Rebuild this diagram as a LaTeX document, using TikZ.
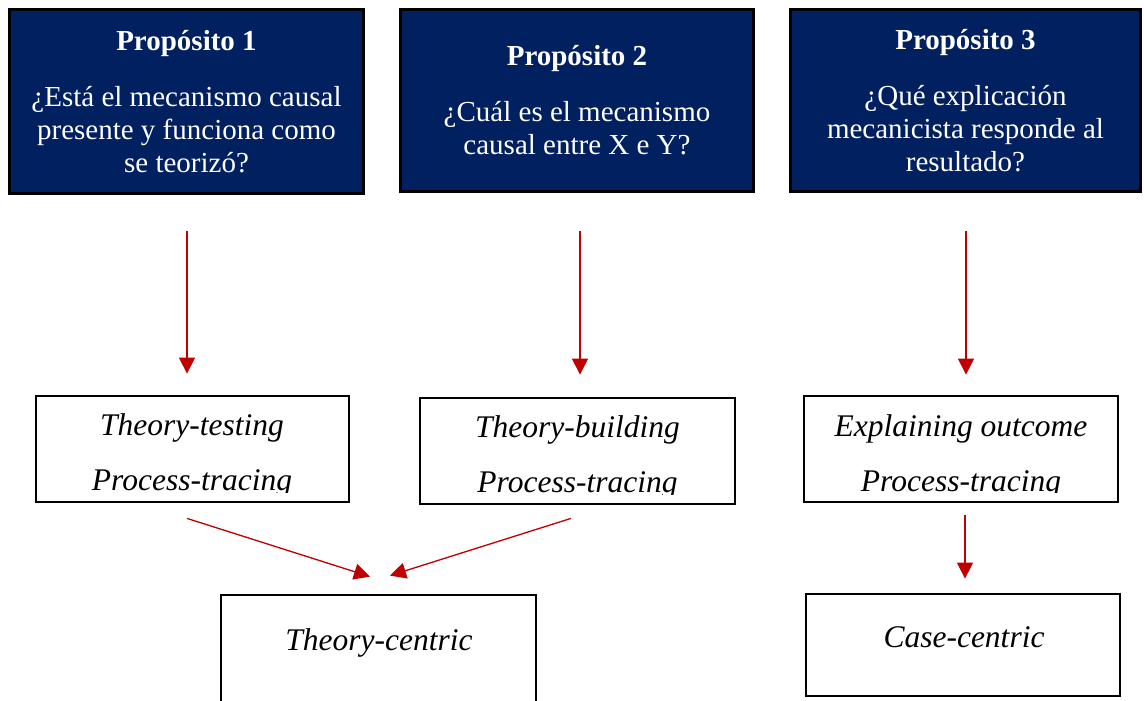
\documentclass[tikz,border=0pt]{standalone}
\usepackage{fontspec}
\setmainfont{Liberation Serif}
\usetikzlibrary{arrows.meta,calc}
\definecolor{navy}{HTML}{002060}
\definecolor{arrowred}{HTML}{C00000}

\begin{document}
\begin{tikzpicture}[x=1pt,y=-1pt,
  purpose/.style={draw=black,line width=3pt,fill=navy,text=white,align=center,
    inner sep=0pt,font=\fontsize{29}{33}\selectfont},
  method/.style={draw=black,line width=2.8pt,fill=white,inner sep=0pt},
  lbl/.style={anchor=base,inner sep=0pt,font=\itshape\fontsize{31.5}{38}\selectfont},
  arr/.style={draw=arrowred,line width=1.3pt,-{Triangle[length=16pt,width=16pt]},fill=arrowred}
]
\useasboundingbox (0,0) rectangle (1144,701);
\fill[white] (0,0) rectangle (1144,701);

% purpose boxes
\node[purpose,minimum width=354pt,minimum height=184pt] (P1) at (186.5,101.5)
  {\textbf{Propósito 1}\\[23pt]¿Está el mecanismo causal\\presente y funciona como\\se teorizó?};
\node[purpose,minimum width=353pt,minimum height=182pt] (P2) at (577,100.5)
  {\textbf{Propósito 2}\\[23pt]¿Cuál es el mecanismo\\causal entre X e Y?};
\node[purpose,minimum width=350pt,minimum height=182pt] (P3) at (965.5,100.5)
  {\textbf{Propósito 3}\\[23pt]¿Qué explicación\\mecanicista responde al\\resultado?};

% process-tracing variants
\node[method,minimum width=313pt,minimum height=106pt] (A) at (192.5,449) {};
\node[method,minimum width=315pt,minimum height=106pt] (B) at (577.5,451) {};
\node[method,minimum width=314pt,minimum height=106pt] (C) at (961,449) {};

\begin{scope}
  \clip (A.north west) rectangle ([yshift=11pt]A.south east);
  \node[lbl] (A1) at (192,435) {Theory-testing};
  \node[lbl] (A2) at (192,490) {Process-tracing};
\end{scope}
\begin{scope}
  \clip (B.north west) rectangle ([yshift=11pt]B.south east);
  \node[lbl] (B1) at (577.5,437) {Theory-building};
  \node[lbl] (B2) at (577.5,492) {Process-tracing};
\end{scope}
\begin{scope}
  \clip (C.north west) rectangle ([yshift=11pt]C.south east);
  \node[lbl] (C1) at (961,436) {Explaining outcome};
  \node[lbl] (C2) at (961,491) {Process-tracing};
\end{scope}

% outcome boxes
\node[method,minimum width=315pt,minimum height=130pt] (T) at (378.5,660) {};
\node[method,minimum width=314pt,minimum height=102pt] (K) at (963,645) {};
\node[lbl] (T1) at (379,650) {Theory-centric};
\node[lbl] (K1) at (964,647) {Case-centric};

% connectors
\draw[arr,shorten <=36pt,shorten >=21pt] ([xshift=0.5pt]P1.south) -- ([xshift=0.5pt]P1.south |- A.north);
\draw[arr,shorten <=38pt,shorten >=22pt] ([xshift=3pt]P2.south) -- ([xshift=3pt]P2.south |- B.north);
\draw[arr,shorten <=38pt,shorten >=20pt] ([xshift=0.5pt]P3.south) -- ([xshift=0.5pt]P3.south |- C.north);
\draw[arr] ([xshift=-5.5pt,yshift=-15pt]A.south) -- ([xshift=-8.5pt,yshift=17pt]T.north);
\draw[arr] ([xshift=-6.5pt,yshift=-13pt]B.south) -- ([xshift=11.5pt,yshift=18pt]T.north);
\draw[arr,shorten <=12pt,shorten >=14pt] ([xshift=4pt]C.south) -- ([xshift=4pt]C.south |- K.north);
\end{tikzpicture}
\end{document}
